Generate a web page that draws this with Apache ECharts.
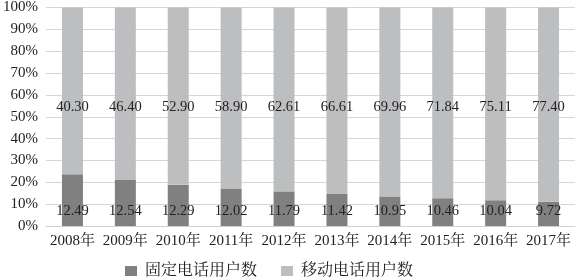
<!DOCTYPE html>
<html><head><meta charset="utf-8">
<script src="https://cdn.jsdelivr.net/npm/echarts@6/dist/echarts.min.js"></script>
<style>html,body{margin:0;padding:0;background:#fff}#c{width:578px;height:277px}</style>
</head><body><div id="c"></div>
<script>
const categories = ['2008年','2009年','2010年','2011年','2012年','2013年','2014年','2015年','2016年','2017年'];
const fixedUsers = [12.49,12.54,12.29,12.02,11.79,11.42,10.95,10.46,10.04,9.72];
const mobileUsers = [40.30,46.40,52.90,58.90,62.61,66.61,69.96,71.84,75.11,77.40];
const seriesNames = ['固定电话用户数','移动电话用户数'];

const totals = fixedUsers.map((v,i)=>v+mobileUsers[i]);
const fixedPct = fixedUsers.map((v,i)=>v/totals[i]*100);
const mobilePct = mobileUsers.map((v,i)=>v/totals[i]*100);

const font = "'Liberation Serif', 'Times New Roman', 'Noto Serif CJK SC', 'Noto Sans CJK SC', serif";
const chart = echarts.init(document.getElementById('c'), null, {renderer:'canvas'});
chart.setOption({
  animation:false,
  grid:{left:45,right:3,top:5,bottom:51,containLabel:false},
  legend:{left:120,top:258,itemWidth:12,itemHeight:10,itemGap:24,
    icon:'rect',
    textStyle:{fontFamily:font,fontSize:16,color:'#222',padding:[0,0,0,3]},
    data:seriesNames},
  xAxis:{type:'category',data:categories,
    axisLine:{lineStyle:{color:'#d0d0d0'}},axisTick:{show:false},
    axisLabel:{fontFamily:font,fontSize:15,color:'#222',margin:8,interval:0}},
  yAxis:{type:'value',min:0,max:100,interval:10,
    axisLine:{show:false},axisTick:{show:false},
    splitLine:{lineStyle:{color:'#d6d6d6'}},
    axisLabel:{formatter:'{value}%',fontFamily:font,fontSize:15,color:'#222',margin:8}},
  series:[
    {name:seriesNames[0],type:'bar',stack:'t',barWidth:21,data:fixedPct,
     itemStyle:{color:'#808080'},
     label:{show:true,position:'insideBottom',distance:8,fontFamily:font,fontSize:14.5,color:'#222',
       formatter:p=>fixedUsers[p.dataIndex].toFixed(2)}},
    {name:seriesNames[1],type:'bar',stack:'t',barWidth:21,data:mobilePct,
     itemStyle:{color:'#bdbec0'},
     label:{show:true,position:'insideTop',distance:92,fontFamily:font,fontSize:14.5,color:'#222',
       formatter:p=>mobileUsers[p.dataIndex].toFixed(2)}}
  ]
});
</script></body></html>
